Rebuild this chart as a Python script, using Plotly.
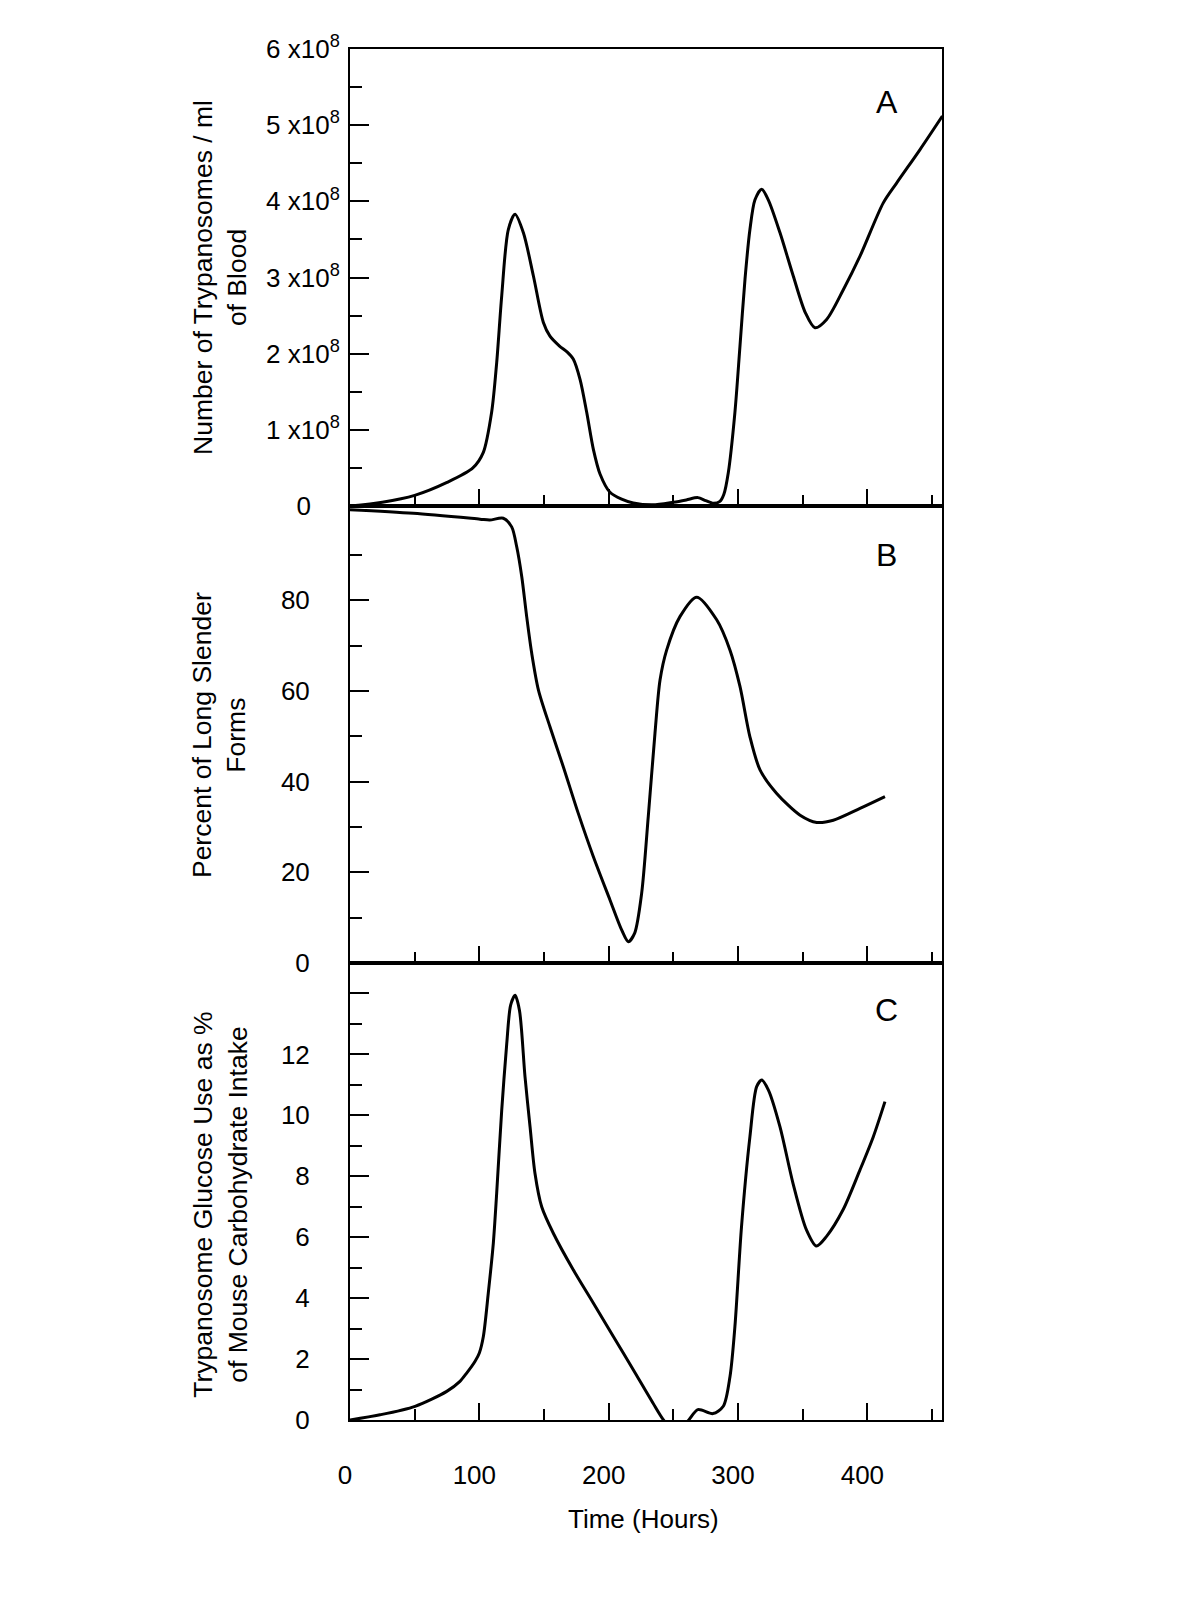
import plotly.graph_objects as go

# ---------------- data ----------------
# Panel A: trypanosomes per ml of blood
hours_a = [0, 25, 50, 75, 95, 103, 109.5, 113.4, 117.3, 122.4, 127.6, 134, 141.8, 149.5,
           154.6, 162, 168, 172.6, 177.9, 183, 188.2, 193.3, 201, 210, 219, 234, 250, 260,
           269, 275, 281, 286, 289, 292.5, 297.6, 301.5, 305.4, 309.2, 313.1, 318.3, 323.4,
           332.4, 342.7, 352, 359.5, 368.5, 381.4, 394.3, 412.3, 422.6, 440.7, 458]
count_a = [0, 0.05, 0.14, 0.31, 0.50, 0.70, 1.23, 1.88, 2.76, 3.63, 3.83, 3.59, 3.02, 2.41,
           2.23, 2.10, 2.02, 1.93, 1.66, 1.23, 0.74, 0.42, 0.18, 0.09, 0.04, 0.015, 0.05, 0.08,
           0.11, 0.07, 0.035, 0.06, 0.15, 0.44, 1.23, 2.10, 2.98, 3.63, 4.02, 4.16, 4.02,
           3.59, 3.02, 2.54, 2.34, 2.45, 2.84, 3.28, 3.98, 4.24, 4.68, 5.12]  # x10^8

# Panel B: percent of long slender forms
hours_b = [0, 49, 100.5, 108, 118.5, 125, 128.9, 132.8, 136.6, 140.5, 145.7, 154.6, 164.9,
           176.5, 188.1, 201, 210, 215.2, 220.1, 225.5, 230.6, 235.8, 239.7, 244.8, 255.1,
           268, 283.5, 293.8, 301.5, 309.2, 317, 329.9, 348, 360.9, 373.7, 394.3, 413.6]
pct_b = [100, 99.2, 97.9, 97.7, 98.1, 96.2, 91.8, 85.2, 76.4, 68.3, 60.2, 52.1, 43.3,
         33.0, 23.5, 13.9, 7.3, 4.7, 6.6, 15.4, 32.3, 50.7, 62.4, 69.0, 76.4,
         80.7, 75.7, 69.0, 61.0, 49.9, 42.6, 37.4, 32.6, 31.0, 31.5, 34.1, 36.7]

# Panel C: trypanosome glucose use as % of mouse carbohydrate intake
hours_c = [0, 23.2, 50.3, 74.8, 85, 90.2, 96.6, 100, 103.1, 106.9, 110.8, 113.4, 117.3,
           121.2, 124.2, 127.6, 131, 135.3, 139.2, 143, 148.2, 157.2, 172.6, 188.1, 203.6,
           219, 234.2, 243.3, 252, 260.9, 269, 280.6, 288.6, 293.8, 297.6, 302.7, 309.2,
           314.4, 318.3, 323.5, 332.4, 342.5, 352.9, 360.6, 368.3, 381.2, 394.3, 404.6, 413.6]
glucose_c = [0, 0.17, 0.45, 0.94, 1.27, 1.54, 1.92, 2.2, 2.74, 4.16, 5.80, 7.44, 10.17,
             12.36, 13.62, 13.94, 13.45, 11.27, 9.63, 8.10, 7.0, 6.13, 4.93, 3.84, 2.74,
             1.65, 0.56, -0.05, -0.4, -0.05, 0.34, 0.21, 0.45, 1.43, 3.07, 6.35, 9.30,
             10.94, 11.16, 10.83, 9.63, 7.77, 6.24, 5.71, 6.02, 6.9, 8.21, 9.30, 10.45]

# ticks / labels
x_ticks = [0, 100, 200, 300, 400]
x_minor = [50, 150, 250, 350, 450]
NB = "\u00a0"
a_ticks = [0, 1e8, 2e8, 3e8, 4e8, 5e8, 6e8]
a_labels = ["0" + NB * 4, "1 x10<sup>8</sup>", "2 x10<sup>8</sup>", "3 x10<sup>8</sup>",
            "4 x10<sup>8</sup>", "5 x10<sup>8</sup>", "6 x10<sup>8</sup>"]
a_minor = [0.5e8, 1.5e8, 2.5e8, 3.5e8, 4.5e8, 5.5e8]
b_ticks = [0, 20, 40, 60, 80]
b_minor = [10, 30, 50, 70, 90]
c_ticks = [0, 2, 4, 6, 8, 10, 12, 14]
c_labels = ["0", "2", "4", "6", "8", "10", "12", ""]
c_minor = [1, 3, 5, 7, 9, 11, 13]

FONT = "Liberation Sans, Arial, sans-serif"
LINE = dict(color="black", width=3, shape="spline", smoothing=0.8)

fig = go.Figure()
fig.add_trace(go.Scatter(x=hours_a, y=[v * 1e8 for v in count_a], mode="lines",
                         line=LINE, xaxis="x", yaxis="y", showlegend=False))
fig.add_trace(go.Scatter(x=hours_b, y=pct_b, mode="lines",
                         line=LINE, xaxis="x2", yaxis="y2", showlegend=False))
fig.add_trace(go.Scatter(x=hours_c, y=glucose_c, mode="lines",
                         line=LINE, xaxis="x3", yaxis="y3", showlegend=False))


def xax(anchor, labels):
    return dict(anchor=anchor, domain=[0, 1], range=[0, 457.7],
                tickmode="array", tickvals=x_ticks, ticks="inside", ticklen=17,
                tickwidth=2, tickcolor="black",
                minor=dict(tickmode="array", tickvals=x_minor, ticks="inside", ticklen=11,
                           tickwidth=2, tickcolor="black", showgrid=False),
                showticklabels=labels, ticklabelstandoff=31, ticklabelshift=-5,
                tickfont=dict(family=FONT, size=26, color="black"),
                showline=True, linewidth=2, linecolor="black", mirror=True,
                showgrid=False, zeroline=False, fixedrange=True)


def yax(anchor, dom, rng, tv, tt, minor_vals, standoff):
    return dict(anchor=anchor, domain=dom, range=rng,
                tickmode="array", tickvals=tv, ticktext=tt, ticks="inside", ticklen=19,
                tickwidth=2, tickcolor="black",
                minor=dict(tickmode="array", tickvals=minor_vals, ticks="inside", ticklen=12,
                           tickwidth=2, tickcolor="black", showgrid=False),
                ticklabelstandoff=standoff,
                tickfont=dict(family=FONT, size=26, color="black"),
                showline=True, linewidth=2, linecolor="black", mirror=True,
                showgrid=False, zeroline=False, fixedrange=True)


fig.update_layout(
    width=1200, height=1600,
    margin=dict(l=342, r=266, t=41, b=188),
    paper_bgcolor="white", plot_bgcolor="white",
    xaxis=xax("y", False),
    xaxis2=xax("y2", False),
    xaxis3=xax("y3", True),
    yaxis=yax("x", [2 / 3, 1], [0, 6e8], a_ticks, a_labels, a_minor, 3),
    yaxis2=yax("x2", [1 / 3, 2 / 3], [0, 100.8], b_ticks, [str(v) for v in b_ticks], b_minor, 33),
    yaxis3=yax("x3", [0, 1 / 3], [0, 15], c_ticks, c_labels, c_minor, 33),
)

ann_font = dict(family=FONT, size=26.5, color="black")
annotations = [
    dict(text="A", x=415, y=5.3e8, xref="x", yref="y", showarrow=False,
         font=dict(family=FONT, size=32, color="black"), xanchor="center", yanchor="middle"),
    dict(text="B", x=415, y=90, xref="x2", yref="y2", showarrow=False,
         font=dict(family=FONT, size=32, color="black"), xanchor="center", yanchor="middle"),
    dict(text="C", x=415, y=13.45, xref="x3", yref="y3", showarrow=False,
         font=dict(family=FONT, size=32, color="black"), xanchor="center", yanchor="middle"),
    dict(text="Number of Trypanosomes / ml<br>of Blood", x=(220 - 350) / 592, y=0.833,
         xref="paper", yref="paper", textangle=-90, showarrow=False, font=ann_font,
         xanchor="center", yanchor="middle"),
    dict(text="Percent of Long Slender<br>Forms", x=(219 - 350) / 592, y=0.4996,
         xref="paper", yref="paper", textangle=-90, showarrow=False, font=ann_font,
         xanchor="center", yanchor="middle"),
    dict(text="Trypanosome Glucose Use as %<br>of Mouse Carbohydrate Intake",
         x=(220 - 350) / 592, y=0.157,
         xref="paper", yref="paper", textangle=-90, showarrow=False, font=ann_font,
         xanchor="center", yanchor="middle"),
    dict(text="Time (Hours)", x=(643 - 350) / 592, y=(1420 - 1519) / 1371,
         xref="paper", yref="paper", showarrow=False,
         font=dict(family=FONT, size=26, color="black"), xanchor="center", yanchor="middle"),
]
fig.update_layout(annotations=annotations)

fig.write_html("out.html")
